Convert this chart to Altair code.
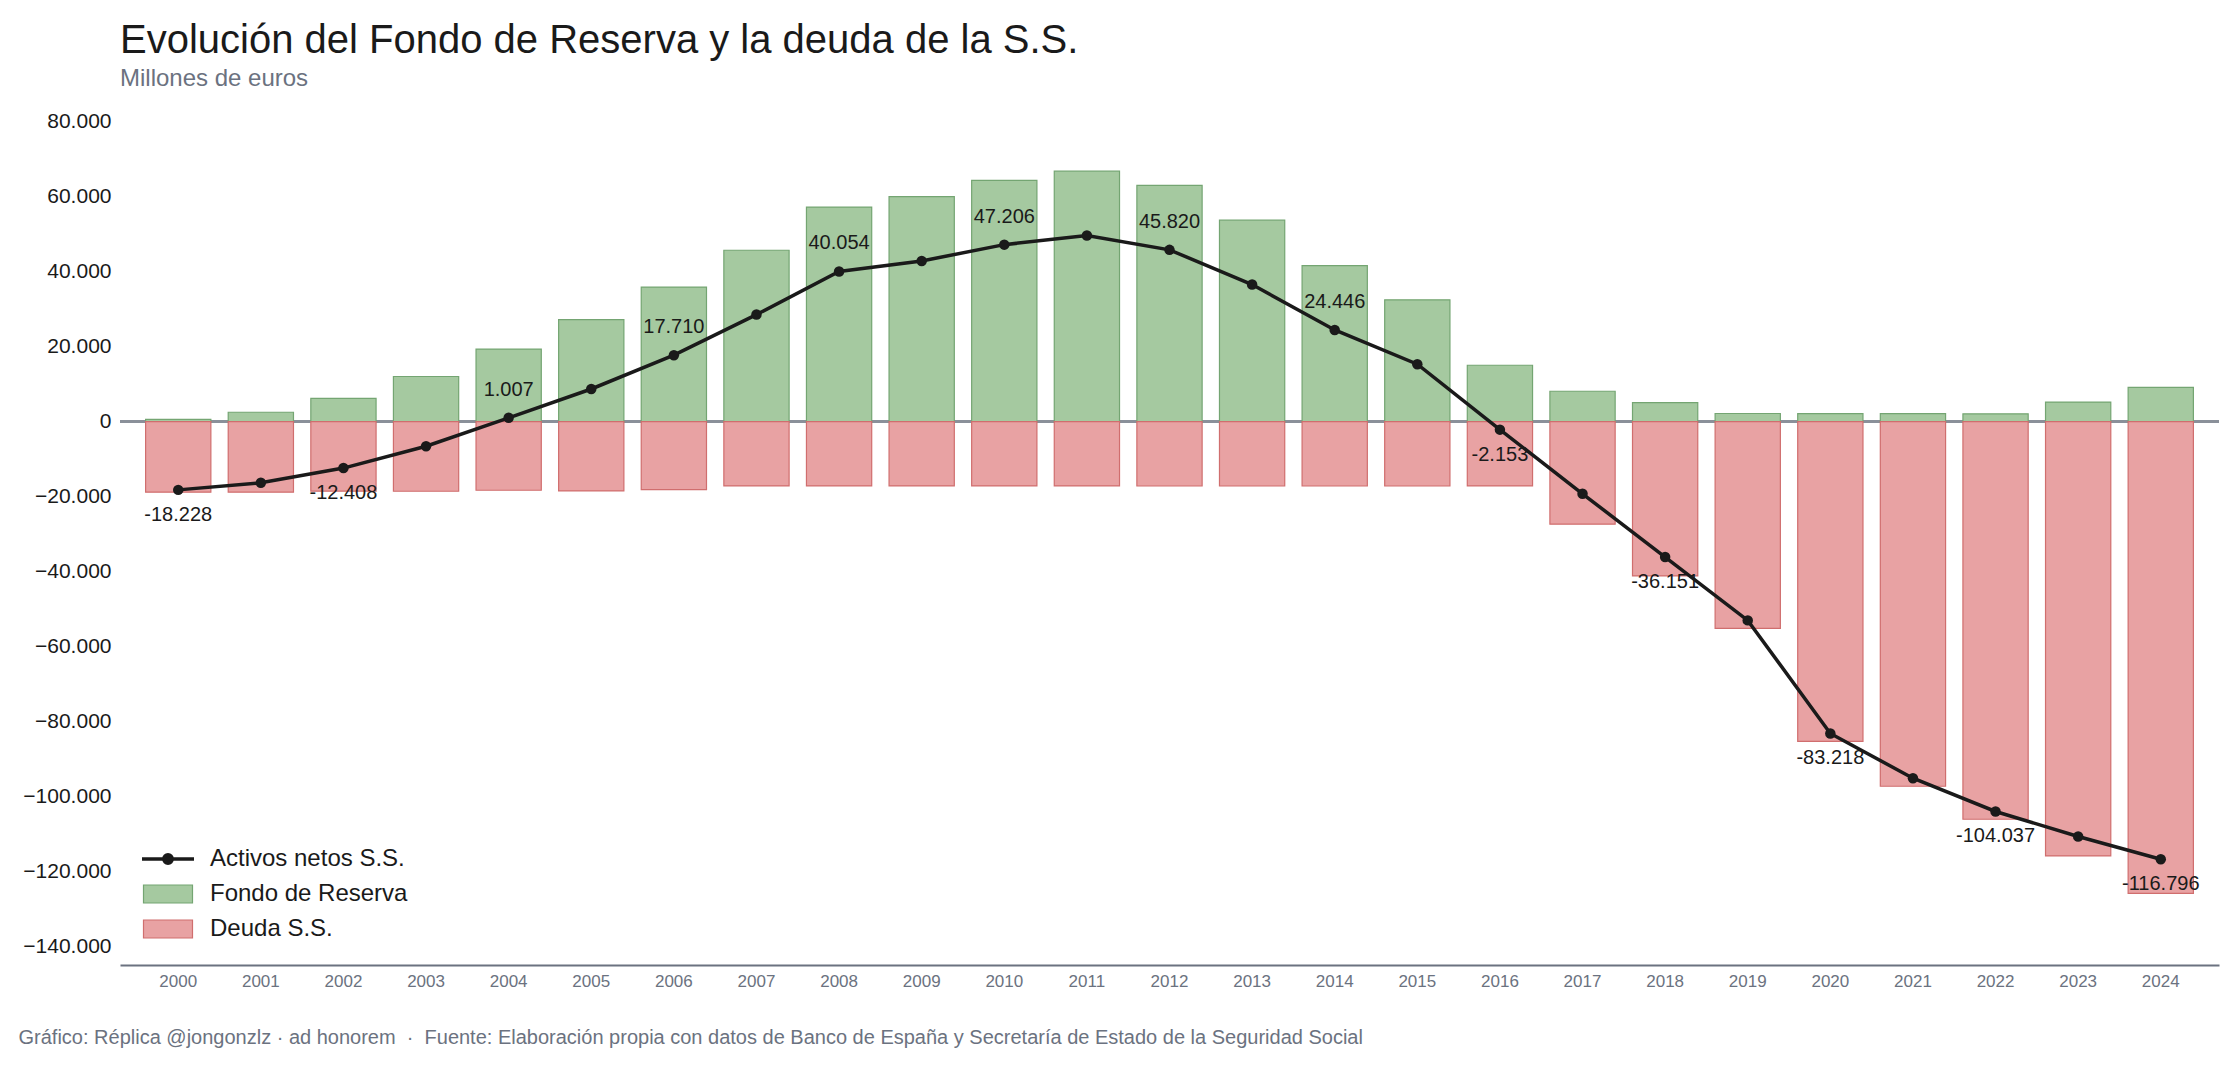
import altair as alt
import pandas as pd

# Datos anuales (millones de euros)
years = list(range(2000, 2025))
fondo_reserva = [601, 2489, 6168, 12024, 19330, 27192, 35879, 45716, 57223, 60022,
                 64375, 66815, 63008, 53744, 41634, 32481, 15020, 8095, 5043, 2153,
                 2138, 2138, 2070, 5200, 9100]
deuda_ss = [18829, 18829, 18576, 18600, 18323, 18500, 18169, 17169, 17169, 17169,
            17169, 17169, 17188, 17188, 17188, 17188, 17173, 27370, 41194, 55200,
            85356, 97300, 106107, 115900, 125896]
# Años con etiqueta de valor sobre la línea de activos netos
labelled_years = [2000, 2002, 2004, 2006, 2008, 2010, 2012, 2014, 2016, 2018, 2020, 2022, 2024]

S_NET = "Activos netos S.S."
S_FR = "Fondo de Reserva"
S_DEUDA = "Deuda S.S."
NET_COLOR = "#1a1a1a"
bar_series = [S_FR, S_DEUDA]
bar_fills = ["#a5c9a0", "#e8a2a3"]
bar_strokes = ["#74a572", "#d06e6e"]

FONT = "Liberation Sans"
NBSP = "\u00a0"


def miles(v):
    return f"{v:,}".replace(",", ".")


bars_df = pd.DataFrame(
    [{"anio": str(y), "serie": S_FR, "valor": f} for y, f in zip(years, fondo_reserva)]
    + [{"anio": str(y), "serie": S_DEUDA, "valor": -d} for y, d in zip(years, deuda_ss)]
)
bars_df["borde"] = bars_df["serie"]

neto = [f - d for f, d in zip(fondo_reserva, deuda_ss)]
net_df = pd.DataFrame({
    "anio": [str(y) for y in years],
    "linea": S_NET,
    "neto": neto,
    "etiqueta": [miles(v) for v in neto],
    "mostrar": [y in labelled_years for y in years],
})

# Símbolos de leyenda: línea con punto y rectángulo
line_path = "M-2.6,0H2.6M0.42,0A0.42,0.42,0,1,1,-0.42,0A0.42,0.42,0,1,1,0.42,0Z"
rect_path = "M-2.45,-0.9H2.45V0.9H-2.45Z"

legend_common = dict(
    title=None,
    orient="none",
    legendX=36,
    padding=0,
    symbolSize=400,
    symbolOpacity=1,
    labelFont=FONT,
    labelFontSize=24,
    labelColor="#1a1a1a",
    labelOffset=30,
    labelLimit=500,
    rowPadding=11,
)

line_legend = alt.Legend(
    legendY=744,
    symbolType=line_path,
    symbolStrokeWidth=3.5,
    symbolFillColor=NET_COLOR,
    **legend_common,
)
# Relleno de las barras en la leyenda
bar_fill_legend = alt.Legend(
    legendY=779,
    symbolType=rect_path,
    symbolStrokeWidth=0,
    **legend_common,
)
# Borde de las barras, superpuesto al relleno (sin repetir el texto)
bar_stroke_legend = alt.Legend(
    legendY=779,
    symbolType=rect_path,
    symbolStrokeWidth=1.2,
    symbolFillColor="transparent",
    labelOpacity=0,
    **legend_common,
)

footer = (
    f"Gráfico: Réplica @jongonzlz · ad honorem{NBSP} ·{NBSP} Fuente: Elaboración propia con datos "
    "de Banco de España y Secretaría de Estado de la Seguridad Social"
)

x_enc = alt.X(
    "anio:O",
    sort=[str(y) for y in years],
    scale=alt.Scale(paddingInner=0.21, paddingOuter=0.31),
    axis=alt.Axis(
        title=footer,
        titleFont=FONT,
        titleFontSize=20,
        titleFontWeight="normal",
        titleColor="#6b7280",
        titleAlign="left",
        titleBaseline="middle",
        titleX=-102,
        titleY=72,
        labelAngle=0,
        labelFont=FONT,
        labelFontSize=17,
        labelColor="#6b7280",
        labelPadding=8,
        ticks=False,
        domainColor="#6b7280",
        domainWidth=2,
    ),
)

y_scale = alt.Scale(domain=[-145000, 85000], nice=False)
y_axis = alt.Axis(
    title=None,
    values=list(range(-140000, 80001, 20000)),
    format=",d",
    labelExpr="replace(datum.label, ',', '.')",
    labelFont=FONT,
    labelFontSize=21,
    labelColor="#1a1a1a",
    labelPadding=9,
    ticks=False,
    domain=False,
    grid=False,
)

zero = alt.Chart(net_df).mark_rule(color="#8a9099", strokeWidth=2).encode(
    y=alt.datum(0, scale=y_scale, axis=y_axis)
)

bars = alt.Chart(bars_df).mark_bar(strokeWidth=1.2, opacity=1).encode(
    x=x_enc,
    y=alt.Y("valor:Q", scale=y_scale, axis=y_axis, stack=None),
    fill=alt.Fill("serie:N", scale=alt.Scale(domain=bar_series, range=bar_fills), legend=bar_fill_legend),
    stroke=alt.Stroke("borde:N", scale=alt.Scale(domain=bar_series, range=bar_strokes), legend=bar_stroke_legend),
)

line = alt.Chart(net_df).mark_line(strokeWidth=3.5).encode(
    x=x_enc,
    y=alt.Y("neto:Q", scale=y_scale, axis=y_axis),
    stroke=alt.Stroke("linea:N", scale=alt.Scale(domain=[S_NET], range=[NET_COLOR]), legend=line_legend),
)

points = alt.Chart(net_df).mark_point(filled=True, size=110, opacity=1, color=NET_COLOR).encode(
    x=x_enc,
    y=alt.Y("neto:Q", scale=y_scale, axis=y_axis),
)

text_style = dict(font=FONT, fontSize=20, color="#1a1a1a", baseline="middle", align="center")
labels_pos = alt.Chart(net_df).transform_filter(
    "datum.mostrar && datum.neto >= 0"
).mark_text(dy=-28, **text_style).encode(
    x=x_enc, y=alt.Y("neto:Q", scale=y_scale, axis=y_axis), text="etiqueta:N"
)
labels_neg = alt.Chart(net_df).transform_filter(
    "datum.mostrar && datum.neto < 0"
).mark_text(dy=25, **text_style).encode(
    x=x_enc, y=alt.Y("neto:Q", scale=y_scale, axis=y_axis), text="etiqueta:N"
)

chart = alt.layer(zero, bars, line, points, labels_pos, labels_neg).resolve_scale(
    stroke="independent"
).properties(
    width=2099,
    height=862,
    background="white",
    autosize=alt.AutoSizeParams(type="none"),
    padding={"left": 120, "top": 103, "right": 17, "bottom": 102},
    title=alt.TitleParams(
        text="Evolución del Fondo de Reserva y la deuda de la S.S.",
        subtitle="Millones de euros",
        anchor="start",
        frame="group",
        font=FONT,
        fontSize=40,
        fontWeight="normal",
        color="#1a1a1a",
        subtitleFont=FONT,
        subtitleFontSize=24,
        subtitleColor="#6b7280",
        subtitlePadding=6,
        offset=12,
    ),
).configure_view(stroke="transparent", strokeWidth=0)

chart.save("out.html", embed_options={"renderer": "svg", "actions": False})
